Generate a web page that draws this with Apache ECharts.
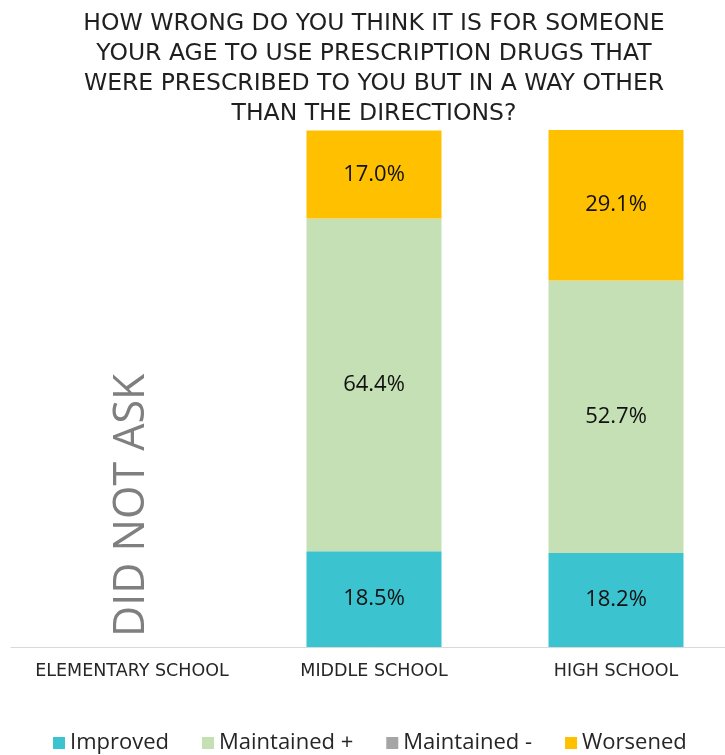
<!DOCTYPE html>
<html>
<head>
<meta charset="utf-8">
<script src="https://cdn.jsdelivr.net/npm/echarts@6/dist/echarts.min.js"></script>
<style>
  html, body { margin: 0; padding: 0; background: #fff; }
  #chart { width: 725px; height: 755px; }
</style>
</head>
<body>
<div id="chart"></div>
<script>
// Survey question shown as the chart heading
const titleLines = [
  'HOW WRONG DO YOU THINK IT IS FOR SOMEONE',
  'YOUR AGE TO USE PRESCRIPTION DRUGS THAT',
  'WERE PRESCRIBED TO YOU BUT IN A WAY OTHER',
  'THAN THE DIRECTIONS?'
];

// School levels on the x axis
const categories = ['ELEMENTARY SCHOOL', 'MIDDLE SCHOOL', 'HIGH SCHOOL'];

// Percent of students in each change group (elementary was not surveyed)
const improved     = [null, 18.5, 18.2];
const maintainedUp = [null, 64.4, 52.7];
const maintainedDn = [null, null, null];
const worsened     = [null, 17.0, 29.1];

const notAskedText = 'DID NOT ASK';

const seriesDefs = [
  { name: 'Improved',     data: improved,     color: '#3BC4D0' },
  { name: 'Maintained +', data: maintainedUp, color: '#C5E0B4' },
  { name: 'Maintained -', data: maintainedDn, color: '#A5A5A5' },
  { name: 'Worsened',     data: worsened,     color: '#FFC000' }
];

const chart = echarts.init(document.getElementById('chart'));

chart.setOption({
  animation: false,
  backgroundColor: '#ffffff',
  title: {
    text: titleLines.join('\n'),
    left: 369,
    top: 4,
    textAlign: 'center',
    textStyle: {
      fontFamily: 'DejaVu Sans',
      fontSize: 23.5,
      fontWeight: 'normal',
      lineHeight: 30,
      color: '#1f1f1f'
    }
  },
  legend: {
    top: 727,
    left: 48,
    itemWidth: 12,
    itemHeight: 12,
    itemGap: 33,
    icon: 'rect',
    textStyle: {
      fontFamily: 'Open Sans',
      fontSize: 22,
      color: '#262626'
    },
    data: seriesDefs.map(s => s.name)
  },
  grid: {
    left: 11,
    top: 130,
    width: 726,
    bottom: 108,
    containLabel: false,
    outerBoundsMode: 'none'
  },
  xAxis: {
    type: 'category',
    data: categories,
    axisLine: { lineStyle: { color: '#d9d9d9', width: 1 } },
    axisTick: { show: false },
    axisLabel: {
      interval: 0,
      margin: 15,
      fontFamily: 'DejaVu Sans',
      fontSize: 17.5,
      color: '#262626'
    }
  },
  yAxis: {
    type: 'value',
    min: 0,
    max: 100,
    show: false,
    splitLine: { show: false }
  },
  series: seriesDefs.map(s => ({
    name: s.name,
    type: 'bar',
    stack: 'total',
    barWidth: 135,
    data: s.data,
    itemStyle: { color: s.color },
    label: {
      show: true,
      position: 'inside',
      fontFamily: 'Open Sans',
      fontSize: 22,
      color: '#111111',
      formatter: p => (p.value == null ? '' : p.value.toFixed(1) + '%')
    }
  }))
});

// Vertical note over the elementary column, anchored just above the axis
const noteX = chart.convertToPixel({ xAxisIndex: 0 }, categories[0]);
const noteY = chart.convertToPixel({ yAxisIndex: 0 }, 0) - 10;
chart.setOption({
  graphic: [{
    type: 'text',
    x: noteX,
    y: noteY,
    rotation: Math.PI / 2,
    style: {
      text: notAskedText,
      fontFamily: 'Open Sans',
      fontSize: 43,
      fill: '#7F7F7F',
      align: 'left',
      verticalAlign: 'middle'
    }
  }]
});
</script>
</body>
</html>
